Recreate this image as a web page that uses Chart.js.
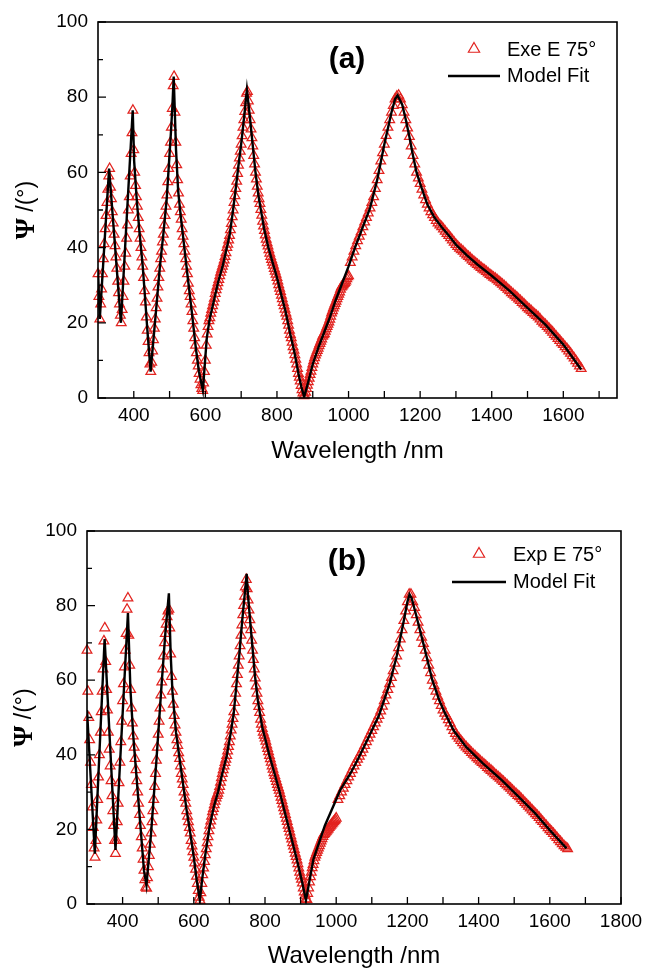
<!DOCTYPE html>
<html><head><meta charset="utf-8">
<script src="https://cdn.jsdelivr.net/npm/chart.js@4.4.1/dist/chart.umd.min.js"></script>
<style>
html,body{margin:0;padding:0;background:#fff;}
#wrap{position:relative;width:658px;height:969px;overflow:hidden;}
canvas{position:absolute;left:0;}
</style></head><body>
<div id="wrap">
<canvas id="chartA" style="top:0px" width="658" height="480"></canvas>
<canvas id="chartB" style="top:480px" width="658" height="489"></canvas>
</div>
<script>
// ---- shared wavelength grid (nm) of the measured points ----
const wavelength = [
300,302.5,305,307.5,310,312.5,315,317.5,320,322.5,
325,327.5,330,332.5,335,337.5,340,342.5,345,347.5,
350,352.5,355,357.5,360,362.5,365,367.5,370,372.5,
375,377.5,380,382.5,385,387.5,390,392.5,395,397.5,
400,402.5,405,407.5,410,412.5,415,417.5,420,422.5,
425,427.5,430,432.5,435,437.5,440,442.5,445,447.5,
450,452.5,455,457.5,460,462.5,465,467.5,470,472.5,
475,477.5,480,482.5,485,487.5,490,492.5,495,497.5,
500,502.5,505,507.5,510,512.5,515,517.5,520,522.5,
525,527.5,530,532.5,535,537.5,540,542.5,545,547.5,
550,552.5,555,557.5,560,562.5,565,567.5,570,572.5,
575,577.5,580,582.5,585,587.5,590,592.5,595,597.5,
600,
602.5,605,607.5,610,612.5,615,617.5,620,622.5,625,
627.5,630,632.5,635,637.5,640,642.5,645,647.5,650,
652.5,655,657.5,660,662.5,665,667.5,670,672.5,675,
677.5,680,682.5,685,687.5,690,692.5,695,697.5,700,
702.5,705,707.5,710,712.5,715,717.5,720,722.5,725,
727.5,730,732.5,735,737.5,740,742.5,745,747.5,750,
752.5,755,757.5,760,762.5,765,767.5,770,772.5,775,
777.5,780,782.5,785,787.5,790,792.5,795,797.5,800,
802.5,805,807.5,810,812.5,815,817.5,820,822.5,825,
827.5,830,832.5,835,837.5,840,842.5,845,847.5,850,
852.5,855,857.5,860,862.5,865,867.5,870,872.5,875,
877.5,880,882.5,885,887.5,890,892.5,895,897.5,900,
902.5,905,907.5,910,912.5,915,917.5,920,922.5,925,
927.5,930,932.5,935,937.5,940,942.5,945,947.5,950,
952.5,955,957.5,960,962.5,965,967.5,970,972.5,975,
977.5,980,982.5,985,987.5,990,992.5,995,997.5,1000,
1005,1010,1015,1020,1025,1030,1035,1040,1045,1050,
1055,1060,1065,1070,1075,1080,1085,1090,1095,1100,
1105,1110,1115,1120,1125,1130,1135,1140,1145,1150,
1155,1160,1165,1170,1175,1180,1185,1190,1195,1200,
1205,1210,1215,1220,1225,1230,1235,1240,1245,1250,
1255,1260,1265,1270,1275,1280,1285,1290,1295,1300,
1305,1310,1315,1320,1325,1330,1335,1340,1345,1350,
1355,1360,1365,1370,1375,1380,1385,1390,1395,1400,
1405,1410,1415,1420,1425,1430,1435,1440,1445,1450,
1455,1460,1465,1470,1475,1480,1485,1490,1495,1500,
1505,1510,1515,1520,1525,1530,1535,1540,1545,1550,
1555,1560,1565,1570,1575,1580,1585,1590,1595,1600,
1605,1610,1615,1620,1625,1630,1635,1640,1645,1650];

// ---- panel (a): measured Psi (deg) ----
const psiExpA = [
33,27,21,25,29,33,37,41,45,48.5,
52,55.5,59,61,56,53,49.5,46.5,43.5,40.5,
37.5,34.5,31,28,25,22,20,23.5,27,31,
35,38.5,42.5,46,50,53.5,59,65,70.5,76.5,
66,60,56.5,53.5,51,48,45,42.5,40,37.5,
35,32,28.5,25.5,21.5,18,15,12,9,7,
9.5,12.5,15.5,18.5,21,24,26.5,29.5,32,34.5,
37,39,41.5,43.5,46,48.5,51,54,57.5,61,
65,68,72,77,83,85.5,76,68,62,58,
54.5,51.5,49.5,47.5,45,43,41,39,37,35,
33,30.5,28.5,27,25,23,20.5,18.5,16,14,
12,10,8.5,6.5,5,3.5,2.5,2,4,7,
10,
14,17,19,20.5,21.3,22.5,23.5,24.5,25.5,26.5,
27.8,28.8,29.7,30.6,31.5,32.5,33.4,34.2,35,35.8,
36.7,37.6,38.6,40,40.9,42,43.2,44.7,46.4,48.2,
50,52,53.8,55.7,57.6,59.7,61.9,63.8,65.6,67.5,
69.7,72,74,76.2,78.5,81,81.5,79,76.5,74,
71.5,69.2,67,64.5,62.2,60,58.2,56.3,54.5,53,
51.7,50.1,48.6,47,45.7,44.5,43.3,42.2,41.3,40.4,
39.4,38.5,37.6,36.8,36.1,35.3,34.4,33.7,32.9,32,
31.1,30.1,29.2,28.3,27.3,26.4,25.4,24.5,23.6,22.6,
21.7,20.5,19.3,18,16.9,16,14.8,13.6,12.7,11.5,
10.3,9,7.8,6.5,5.5,4.5,3.3,2.2,1.3,0.6,
0.8,1.5,2.5,3.4,4.3,5.2,6.2,7.1,8.1,9,
9.9,10.7,11.4,12,12.6,13.2,13.9,14.5,15.1,15.7,
16.4,16.8,17.1,17.7,18.4,19,19.6,20.2,20.9,21.7,
22.6,23.2,23.9,24.5,25.1,25.7,26.4,27,27.6,28.2,
28.9,29.5,29.8,30.1,30.4,30.7,31.1,31.7,32.2,32.5,
36,37.5,39,40.5,41.8,43,44.2,45.5,46.8,48,
49.2,50.5,52,53.5,55.7,58,60.5,63,65.2,67.5,
69.8,72,74,76,77.8,79.5,80.2,80.5,79.5,78,
76,74,71.8,69.5,67,64.5,62.2,60,58.5,57,
55.5,54,52.7,51.5,50.5,49.5,48.7,48,47.2,46.5,
46,45.5,44.9,44.3,43.7,43.2,42.6,42,41.4,40.8,
40.3,39.8,39.4,39,38.5,38,37.6,37.2,36.7,36.3,
35.9,35.5,35.1,34.7,34.3,34,33.6,33.2,32.8,32.5,
32.1,31.8,31.4,31,30.6,30.2,29.8,29.4,28.9,28.5,
28,27.6,27.2,26.8,26.3,25.9,25.4,25,24.5,24,
23.6,23.2,22.7,22.3,21.9,21.5,21,20.4,19.9,19.5,
19,18.5,18,17.5,16.9,16.4,15.8,15.3,14.7,14.2,
13.6,13.1,12.5,11.9,11.2,10.6,9.9,9.2,8.5,7.8];

// ---- panel (a): model fit ----
const fitWlA = [300,305,331,364,397,401,408,416,425,432,438,447,460,473,483,492,498,504,508,511.5,
515,518,524,531,540,552,562,573,582,593,600,604,612,624,636,648,660,668,676,684,
692,700,708,716,724,732,740,748,756,764,776,788,800,812,824,836,848,860,868,876,
888,900,916,932,948,964,980,1000,1020,1040,1060,1080,1100,1120,1130,1137,1150,1160,1170,1180,
1190,1200,1220,1240,1260,1280,1300,1330,1360,1400,1450,1500,1550,1600,1650];
const fitPsiA = [34,21,61,20,76.5,63,53,44,35,26,18,7,21,35,44,53,62,71,78,85.5,
75,66,55,48.5,41,31,23,13.5,7,2,11,16,21,26,31,35,40,43.5,49,55,
61.5,67.5,74.5,82,75,67.5,60,54,49.5,45,40,36,32,27.5,23,17.5,12.5,6.5,3,0.3,
4.5,9,13.5,17.5,21.5,26,30,35,40.5,45.5,50.5,58,67.5,76,79.5,80.5,78,74,69.5,64.5,
60,57,51.5,48,45.5,43.2,40.8,38,35.5,32.5,28.5,24,19.5,14.2,7.6];

// ---- panel (b): measured Psi (deg) ----
const psiExpB = [
68,57,50,44,38,32,26,20.5,15,12.5,
17,22.5,28,34,40,46,51.5,57,63,70.5,
74,65,57.5,52,46,41.5,37,33,29,25,
21,17,13.5,17,22,27,32.5,38,43.5,49,
54.5,59,63.5,68,72.5,79,82,72,64,57.5,
52.5,48.5,45,42,39,36,33,30,27,24,
21,18,15,12,9,6.5,4.5,4.2,7,10,
13,16,19,22,25,28,31.5,35,38.5,42,
45.5,49,52.5,56,59.5,63,66.5,70,72.5,75,
77,78.5,79,74,67,61,57,53.5,50.5,48,
46,44,42.5,40.5,39,37,35,33.5,32,30,
28.5,27,25,23.5,22,20.5,19,17,15.5,14,
12.5,
11,9.3,7.4,5.5,3.6,1.8,1,3,5.5,7.8,
9.6,11.4,13.2,14.8,16.4,18,19.6,21.1,22.2,23.5,
24.7,25.6,26.6,27.5,28.4,29.1,29.7,30.5,31.5,32.6,
33.8,35,36,37,37.9,38.8,39.8,41,42.2,43.5,
45,46.6,48.2,49.7,51.5,54,56.5,59,61.5,64,
66.5,69.2,72,74.8,77.5,80,82.5,85,87,84.5,
81.5,78.8,76.2,73.5,70.7,68,65.5,63,60.6,58.4,
56.5,54.5,52.9,51.3,49.5,48.2,47,46,45.2,44.5,
43.6,42.6,41.7,40.8,39.8,38.9,38,37,36.1,35.2,
34.4,33.6,32.8,32,31.2,30.5,29.6,28.6,27.7,26.8,
25.8,24.9,24,23,22.1,21.1,20.2,19.3,18.3,17.4,
16.4,15.5,14.6,13.6,12.7,11.8,10.8,9.6,8.5,7.5,
6.6,5.6,4.3,3.2,2.3,1.3,1.2,2.8,4.3,5.9,
7.3,8.5,9.7,10.6,11.6,12.5,13.1,13.8,14.4,15,
15.6,16.3,16.9,17.5,18.1,18.6,18.9,19.2,19.5,19.8,
20.1,20.5,20.8,21.1,21.4,21.7,22,22.3,22.6,23,
28,29,30,31,32,33,34,35,36,37,
37.9,38.8,39.6,40.5,41.5,42.5,43.5,44.5,45.5,46.5,
47.5,48.5,49.5,50.5,51.7,53,54.5,56,57.5,59,
60.7,62.5,64.5,66.5,68.7,71,73.5,76,78.5,81,
83,83,81,79.5,77.5,75.5,73.5,71.5,69.8,68,
66,64,62,60,58.5,57,55.7,54.5,53.2,52,
51.1,50.3,49.4,48.5,47.5,46.5,45.7,45,44.4,43.8,
43.2,42.6,42.1,41.6,41.1,40.6,40.1,39.7,39.2,38.8,
38.3,37.9,37.5,37.1,36.6,36.2,35.8,35.4,34.9,34.5,
34.1,33.7,33.2,32.8,32.3,31.9,31.4,31,30.5,30,
29.6,29.1,28.7,28.2,27.7,27.2,26.7,26.2,25.7,25.2,
24.7,24.2,23.7,23.2,22.6,22.1,21.5,21,20.4,19.9,
19.4,18.9,18.3,17.8,17.2,16.7,16.1,15.6,15.2,14.8];

// ---- panel (b): model fit ----
const fitWlB = [300,322,349.5,380,415,422,430,440,450,460,467,480,495,510,520,530,535,540,550,560,
570,580,590,600,608,617,624,632,644,656,668,680,692,704,712,720,728,736,742,748.5,
752,760,772,780,792,812,840,864,888,904,915,936,968,1000,1011,1040,1062,1090,1120,1150,
1170,1190,1200,1206,1212,1223,1247,1270,1290,1306,1330,1365,1412,1465,1512,1559,1600,1647];
const fitPsiB = [52,13.5,71,14.5,78,57.5,45,33,21,9,5,19,38.5,59.5,72.5,83.3,67,57,46,39,
32,25,19,12.5,6.5,1,7,13,20.5,26,30,35,39.5,46,51,59,67,76,82,88.5,
83,74,61,54.5,47.5,40,30.5,21.5,12.5,6,1,12,21,28,30.5,35,39,44.5,50.5,59,
66.5,76,81,83,82,78,69,60,54.5,51.1,46.5,42.1,37.7,33.2,28.8,24.3,19.8,14.9];

// ---- tick labels ----
const xTickLabelsA = [400,600,800,1000,1200,1400,1600];
const xTickLabelsB = [400,600,800,1000,1200,1400,1600,1800];
const xMinorA = [500,700,900,1100,1300,1500,1700];
const xMinorB = [500,700,900,1100,1300,1500,1700];
const yTickLabels = [0,20,40,60,80,100];
const yMinor = [10,30,50,70,90];

const FONT = '"Liberation Sans", Arial, Helvetica, sans-serif';
const RED = '#e2231f';

function tri(ctx, x, y, r) {
  ctx.beginPath();
  ctx.moveTo(x, y - r);
  ctx.lineTo(x + r * Math.sqrt(3) / 2, y + r / 2);
  ctx.lineTo(x - r * Math.sqrt(3) / 2, y + r / 2);
  ctx.closePath();
  ctx.stroke();
}

const decor = {
  id: 'decor',
  afterDraw(chart, args, o) {
    const ctx = chart.ctx, a = chart.chartArea, xs = chart.scales.x, ys = chart.scales.y;
    ctx.save();
    ctx.strokeStyle = '#000';
    ctx.lineWidth = 1.3;
    ctx.beginPath();
    o.xMajor.concat(o.xMinor).forEach(v => {
      const px = xs.getPixelForValue(v);
      ctx.moveTo(px, a.bottom); ctx.lineTo(px, a.bottom - 7);
    });
    o.yMajor.forEach(v => { const py = ys.getPixelForValue(v); ctx.moveTo(a.left, py); ctx.lineTo(a.left + 8, py); });
    o.yMinor.forEach(v => { const py = ys.getPixelForValue(v); ctx.moveTo(a.left, py); ctx.lineTo(a.left + 5, py); });
    ctx.stroke();
    ctx.lineWidth = 1.6;
    ctx.strokeRect(a.left, a.top, a.right - a.left, a.bottom - a.top);

    // y axis title
    ctx.save();
    ctx.fillStyle = '#000';
    ctx.translate(o.yTitleX, (a.top + a.bottom) / 2);
    ctx.rotate(-Math.PI / 2);
    ctx.textBaseline = 'middle';
    ctx.textAlign = 'left';
    const f1 = 'bold 27px "Liberation Serif", "Times New Roman", serif';
    const f2 = '23px ' + FONT;
    ctx.font = f1; const w1 = ctx.measureText('\u03A8').width;
    ctx.font = f2; const w2 = ctx.measureText(' /(\u00B0)').width;
    const x0 = -(w1 + w2) / 2;
    ctx.font = f1; ctx.fillText('\u03A8', x0, 0);
    ctx.font = f2; ctx.fillText(' /(\u00B0)', x0 + w1, 0);
    ctx.restore();

    // panel tag
    ctx.fillStyle = '#000';
    ctx.font = 'bold 30px ' + FONT;
    ctx.textAlign = 'center';
    ctx.textBaseline = 'middle';
    ctx.fillText(o.tag, o.tagX, o.tagY);

    // legend
    const dsExp = chart.data.datasets[0], dsFit = chart.data.datasets[1];
    ctx.strokeStyle = RED; ctx.lineWidth = 1.2;
    tri(ctx, o.legTriX, o.legTriY, 6.5);
    ctx.strokeStyle = '#000'; ctx.lineWidth = 2.5;
    ctx.beginPath(); ctx.moveTo(o.legLineX1, o.legRow2Y); ctx.lineTo(o.legLineX2, o.legRow2Y); ctx.stroke();
    ctx.font = '20px ' + FONT;
    ctx.textAlign = 'left';
    ctx.fillText(dsExp.label, o.legTextX, o.legRow1Y);
    ctx.fillText(dsFit.label, o.legTextX, o.legRow2Y);
    ctx.restore();
  }
};

function makeChart(id, cfg) {
  const expData = wavelength.map((w, i) => ({x: w, y: cfg.exp[i]}));
  const fitData = cfg.fitWl.map((w, i) => ({x: w, y: cfg.fitPsi[i]}));
  return new Chart(document.getElementById(id), {
    type: 'scatter',
    data: {
      datasets: [
        {label: cfg.expLabel, data: expData, showLine: false, pointStyle: 'triangle', pointRadius: 5.6,
         pointBorderColor: RED, pointBackgroundColor: 'rgba(0,0,0,0)', pointBorderWidth: 1.25, borderColor: RED,
         clip: false, order: 2},
        {label: 'Model Fit', data: fitData, showLine: true, borderColor: '#000', borderWidth: 2.4,
         pointRadius: 0, tension: 0, fill: false, order: 1}
      ]
    },
    options: {
      responsive: false, animation: false, devicePixelRatio: 1,
      layout: {padding: {left: 0, top: cfg.padTop, right: cfg.padRight, bottom: 0}},
      plugins: {
        legend: {display: false}, tooltip: {enabled: false},
        decor: cfg.decor
      },
      scales: {
        x: {
          type: 'linear', min: 300, max: cfg.xMax,
          grid: {display: false, drawTicks: false}, border: {display: false},
          ticks: {font: {family: FONT, size: 19}, color: '#000', padding: 6, maxRotation: 0, autoSkip: false,
                  callback: v => String(v)},
          afterBuildTicks: s => { s.ticks = cfg.xTicks.map(v => ({value: v})); },
          afterFit: s => { s.height = cfg.xAxisH; },
          title: {display: true, text: 'Wavelength /nm', color: '#000',
                  font: {family: FONT, size: 24, lineHeight: 1}, padding: {top: 0, bottom: cfg.titlePadB}}
        },
        y: {
          type: 'linear', min: 0, max: 100,
          grid: {display: false, drawTicks: false}, border: {display: false},
          ticks: {font: {family: FONT, size: 19}, color: '#000', padding: 10, callback: v => String(v)},
          afterBuildTicks: s => { s.ticks = yTickLabels.map(v => ({value: v})); },
          afterFit: s => { s.width = cfg.yAxisW; }
        }
      }
    },
    plugins: [decor]
  });
}

makeChart('chartA', {
  exp: psiExpA, fitWl: fitWlA, fitPsi: fitPsiA, expLabel: 'Exe E 75\u00B0',
  xMax: 1750, xTicks: xTickLabelsA, padTop: 22, padRight: 41, xAxisH: 82, yAxisW: 98, titlePadB: 17,
  decor: {xMajor: xTickLabelsA, xMinor: xMinorA, yMajor: yTickLabels, yMinor: yMinor,
          tag: '(a)', tagX: 347, tagY: 60, yTitleX: 27,
          legTriX: 474, legTriY: 49, legTextX: 507, legRow1Y: 50, legLineX1: 448, legLineX2: 500, legRow2Y: 76}
});
makeChart('chartB', {
  exp: psiExpB, fitWl: fitWlB, fitPsi: fitPsiB, expLabel: 'Exp E 75\u00B0',
  xMax: 1800, xTicks: xTickLabelsB, padTop: 51, padRight: 37, xAxisH: 65, yAxisW: 87, titlePadB: 1,
  decor: {xMajor: xTickLabelsB, xMinor: xMinorB, yMajor: yTickLabels, yMinor: yMinor,
          tag: '(b)', tagX: 347, tagY: 82, yTitleX: 25,
          legTriX: 479, legTriY: 74, legTextX: 513, legRow1Y: 75, legLineX1: 452, legLineX2: 506, legRow2Y: 102}
});
</script>
</body></html>
